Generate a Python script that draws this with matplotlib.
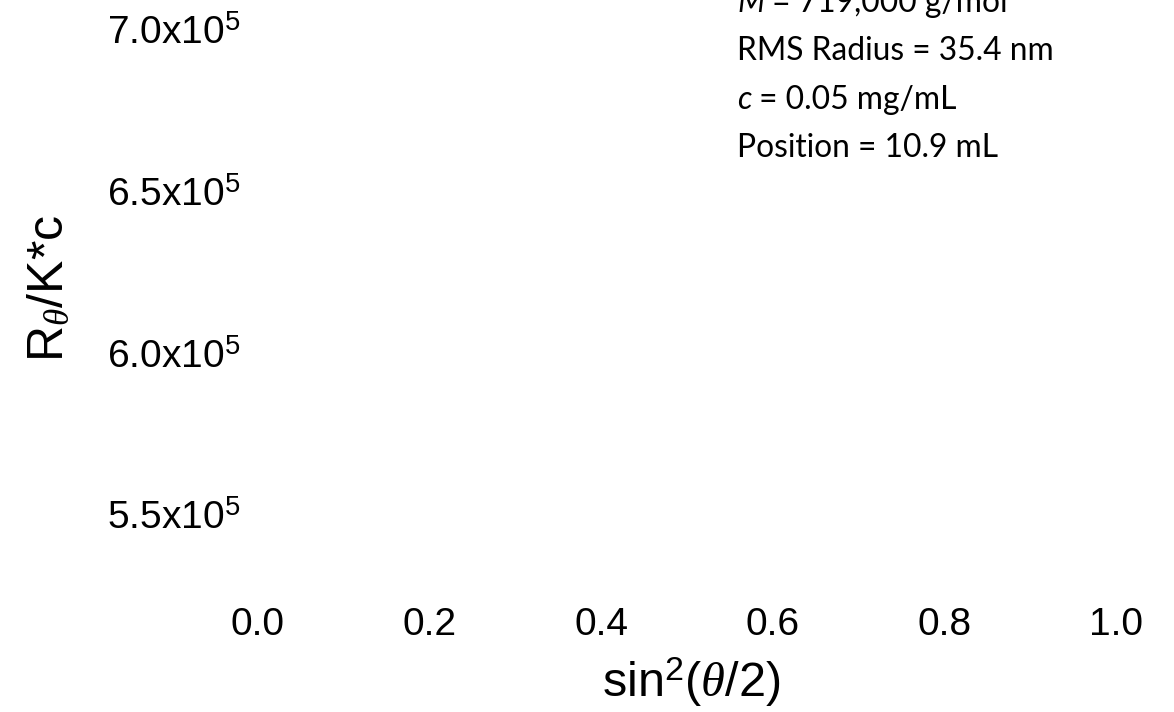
import matplotlib
matplotlib.use("Agg")
import matplotlib.pyplot as plt

# axis ticks (no data points are shown in the chart)
x_ticks = [0.0, 0.2, 0.4, 0.6, 0.8, 1.0]
x_ticklabels = ["0.0", "0.2", "0.4", "0.6", "0.8", "1.0"]
y_ticks = [5.5e5, 6.0e5, 6.5e5, 7.0e5]
y_ticklabels = [r"5.5x10$^5$", r"6.0x10$^5$", r"6.5x10$^5$", r"7.0x10$^5$"]

# annotation lines: (italic part, plain part)
notes_italic = ["M", "", "c", ""]
notes_plain = [" = 719,000 g/mol", "RMS Radius = 35.4 nm", " = 0.05 mg/mL", "Position = 10.9 mL"]

plt.rcParams['font.family'] = ['Liberation Sans', 'DejaVu Sans']
plt.rcParams['mathtext.fontset'] = 'custom'
plt.rcParams['mathtext.rm'] = 'Liberation Sans'
plt.rcParams['mathtext.it'] = 'Liberation Serif:italic'

W, H = 1174, 712
fig = plt.figure(figsize=(W / 100, H / 100), dpi=100)
ax = fig.add_axes([258 / W, 1 - 515 / H, (1116 - 258) / W, (515 - 30) / H])
ax.set_xlim(0, 1)
ax.set_ylim(5.5e5, 7.0e5)

for s in ax.spines.values():
    s.set_visible(False)

ax.set_xticks(x_ticks)
ax.set_xticklabels(x_ticklabels, fontsize=28)
ax.set_yticks(y_ticks)
ax.set_yticklabels(y_ticklabels, fontsize=28)
ax.tick_params(axis='x', length=0, pad=66)
ax.tick_params(axis='y', length=0, pad=108.7)
for lab in ax.get_yticklabels():
    lab.set_horizontalalignment('left')

ax.set_xlabel(r"sin$^2$($\theta$/2)", fontsize=35)
ax.xaxis.set_label_coords((691 - 258) / 858, -(656 - 515) / 485)
ax.set_ylabel(r"R$_\theta$/K*c", fontsize=36)
ax.yaxis.set_label_coords((73 - 258) / 858, (515 - 288) / 485)

x0 = (737 - 258) / 858
for i, (it, pl) in enumerate(zip(notes_italic, notes_plain)):
    y = (515 - (12 + 48.3 * i)) / 485
    if it:
        t = ax.text(x0, y, it, transform=ax.transAxes, family='Lato', style='italic',
                    fontsize=22.9, va='baseline', ha='left')
        ax.annotate(pl, xy=(1, 0), xycoords=t, family='Lato', fontsize=22.9,
                    va='bottom', ha='left')
    else:
        ax.text(x0, y, pl, transform=ax.transAxes, family='Lato',
                fontsize=22.9, va='baseline', ha='left')

fig.savefig("out.png", dpi=100)
